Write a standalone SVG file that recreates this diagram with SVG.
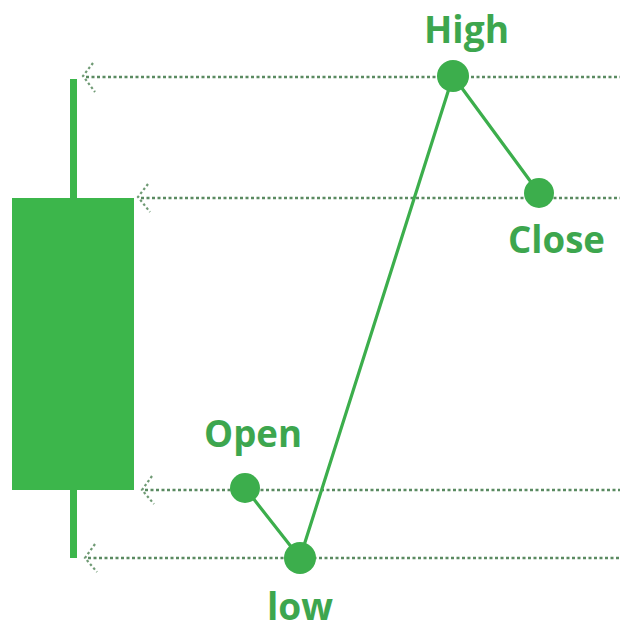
<svg xmlns="http://www.w3.org/2000/svg" width="620" height="632" viewBox="0 0 620 632">
<style>
.guide{fill:none;stroke:#5a8a61;stroke-width:2.5;stroke-dasharray:3 2.5}
.chev{fill:none;stroke:#6f9a74;stroke-width:2.2;stroke-dasharray:2.5 2.5}
.link{fill:none;stroke:#3cae4c;stroke-width:3.2;stroke-linecap:round}
.pt{fill:#3cae4c}
.lbl{font-family:"Open Sans","Liberation Sans",sans-serif;font-weight:700;font-size:37px;fill:#3da64e}
</style>
<rect width="620" height="632" fill="#ffffff"/>
<g id="candle">
<rect x="70" y="79" width="7" height="479" fill="#3cb64b"/>
<rect x="12" y="198" width="122" height="292" fill="#3cb64b"/>
</g>
<g id="connectors">
<line class="guide" x1="86" y1="77" x2="620" y2="77"/>
<polyline class="chev" points="93,63 83,76 95,92"/>
<line class="guide" x1="141" y1="198" x2="620" y2="198"/>
<polyline class="chev" points="148,184 138,197 150,212"/>
<line class="guide" x1="145" y1="490" x2="620" y2="490"/>
<polyline class="chev" points="152,476 142,490 154,504"/>
<line class="guide" x1="88" y1="558" x2="620" y2="558"/>
<polyline class="chev" points="95,544 85,558 97,572"/>
<line class="link" x1="453" y1="76" x2="539" y2="193"/>
<line class="link" x1="453" y1="76" x2="300" y2="558"/>
<line class="link" x1="245" y1="488" x2="300" y2="558"/>
</g>
<g id="high"><circle class="pt" cx="453" cy="76" r="16"/><text class="lbl" x="424" y="43" textLength="85" lengthAdjust="spacingAndGlyphs">High</text></g>
<g id="close"><circle class="pt" cx="539" cy="193" r="15"/><text class="lbl" x="508" y="253" textLength="97" lengthAdjust="spacingAndGlyphs">Close</text></g>
<g id="open"><circle class="pt" cx="245" cy="488" r="15"/><text class="lbl" x="204" y="447" textLength="98" lengthAdjust="spacingAndGlyphs">Open</text></g>
<g id="low"><circle class="pt" cx="300" cy="558" r="16"/><text class="lbl" x="267" y="620" font-size="35" textLength="66" lengthAdjust="spacingAndGlyphs">low</text></g>
</svg>
